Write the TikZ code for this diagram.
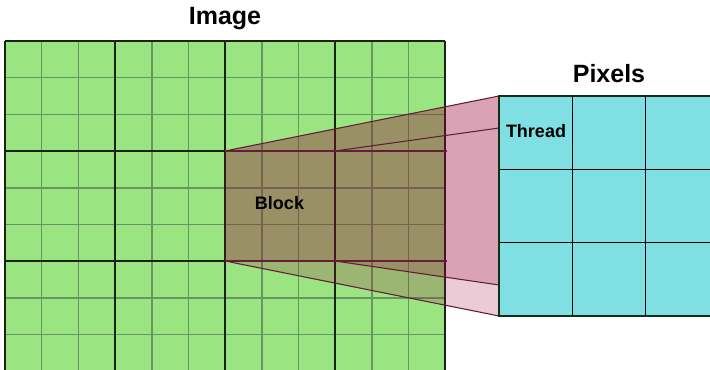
\documentclass[tikz,border=0pt]{standalone}
\usepackage{fontspec}
\setmainfont{Liberation Sans}
\definecolor{imagegreen}{RGB}{155,228,130}
\definecolor{gridthin}{RGB}{105,150,95}
\definecolor{gridthick}{RGB}{25,35,25}
\definecolor{pixelcyan}{RGB}{128,223,226}
\definecolor{pixelborder}{RGB}{20,45,25}
\definecolor{projfill}{RGB}{153,0,51}
\definecolor{projline}{RGB}{95,30,55}
\definecolor{rowline}{RGB}{100,30,55}
\tikzset{
  thinrule/.style={draw=gridthin, line width=1.1pt},
  thickrule/.style={draw=gridthick, line width=1.5pt},
  projection/.style={fill=projfill, fill opacity=0.2},
  projedge/.style={draw=projline, line width=0.8pt},
  blockedge/.style={draw=rowline, line width=1.6pt},
  pixelrule/.style={draw=black, line width=1.1pt},
  pixelframe/.style={draw=pixelborder, line width=1.9pt},
  heading/.style={font=\bfseries\fontsize{18.75}{22}\selectfont, anchor=base, inner sep=0pt},
  tag/.style={font=\bfseries\fontsize{13.5}{16}\selectfont, anchor=base, inner sep=0pt},
}
\begin{document}
\begin{tikzpicture}[x=0.75pt, y=-0.75pt]
  \useasboundingbox (0,0) rectangle (710,370);
  \clip (0,0) rectangle (710,370);

  % image: 12 x 9 pixels, grouped in 3 x 3 blocks
  \def\cell{36.7}
  \fill[imagegreen] (5,41) rectangle ({5+12*\cell},{41+9*\cell});
  \foreach \i in {1,...,11}
    \draw[thinrule] ({5+\i*\cell},41) -- ({5+\i*\cell},{41+9*\cell});
  \foreach \j in {1,...,8}
    \draw[thinrule] (5,{41+\j*\cell}) -- ({5+12*\cell},{41+\j*\cell});
  \foreach \i in {0,3,6,9,12}
    \draw[thickrule] ({5+\i*\cell},41) -- ({5+\i*\cell},{41+9*\cell});
  \foreach \j in {0,3,6,9}
    \draw[thickrule] (5,{41+\j*\cell}) -- ({5+12*\cell},{41+\j*\cell});

  % corners of the block and of the pixel panel
  \coordinate (blkTL) at (225,151);
  \coordinate (blkBL) at (225,261);
  \coordinate (blkTM) at (335,151);
  \coordinate (blkBM) at (335,261);
  \coordinate (rowTR) at (447,151);
  \coordinate (rowBR) at (447,261);
  \coordinate (pixTL) at (499,96);
  \coordinate (pixBL) at (499,316);
  \coordinate (thrT) at (499,128);
  \coordinate (thrB) at (499,285);

  % projection of the block onto the pixel panel
  \fill[projection] (blkTL) -- (pixTL) -- (pixBL) -- (blkBL) -- cycle;
  \fill[projection] (blkTL) -- (pixTL) -- (thrB) -- (blkBM) -- (blkBL) -- cycle;
  \draw[projedge] (blkTL) -- (pixTL);
  \draw[projedge] (blkBL) -- (pixBL);
  \draw[projedge] (blkTM) -- (thrT);
  \draw[projedge] (blkBM) -- (thrB);
  \draw[blockedge] (blkTL) -- (rowTR);
  \draw[blockedge] (blkBL) -- (rowBR);

  % pixel panel: 3 x 3 threads
  \def\pcell{73.3}
  \fill[pixelcyan] (499,96) rectangle ({499+3*\pcell},{96+3*\pcell});
  \foreach \i in {1,2}
    \draw[pixelrule] ({499+\i*\pcell},96) -- ({499+\i*\pcell},{96+3*\pcell});
  \foreach \j in {1,2}
    \draw[pixelrule] (499,{96+\j*\pcell}) -- ({499+3*\pcell},{96+\j*\pcell});
  \draw[pixelframe] (499,96) rectangle ({499+3*\pcell},{96+3*\pcell});

  % labels
  \node[heading] (imgtitle) at (225,25) {Image};
  \node[heading] (pixtitle) at (609,83) {Pixels};
  \node[tag] (blocklabel) at (279.5,210) {Block};
  \node[tag] (threadlabel) at (536,138) {Thread};
\end{tikzpicture}
\end{document}
